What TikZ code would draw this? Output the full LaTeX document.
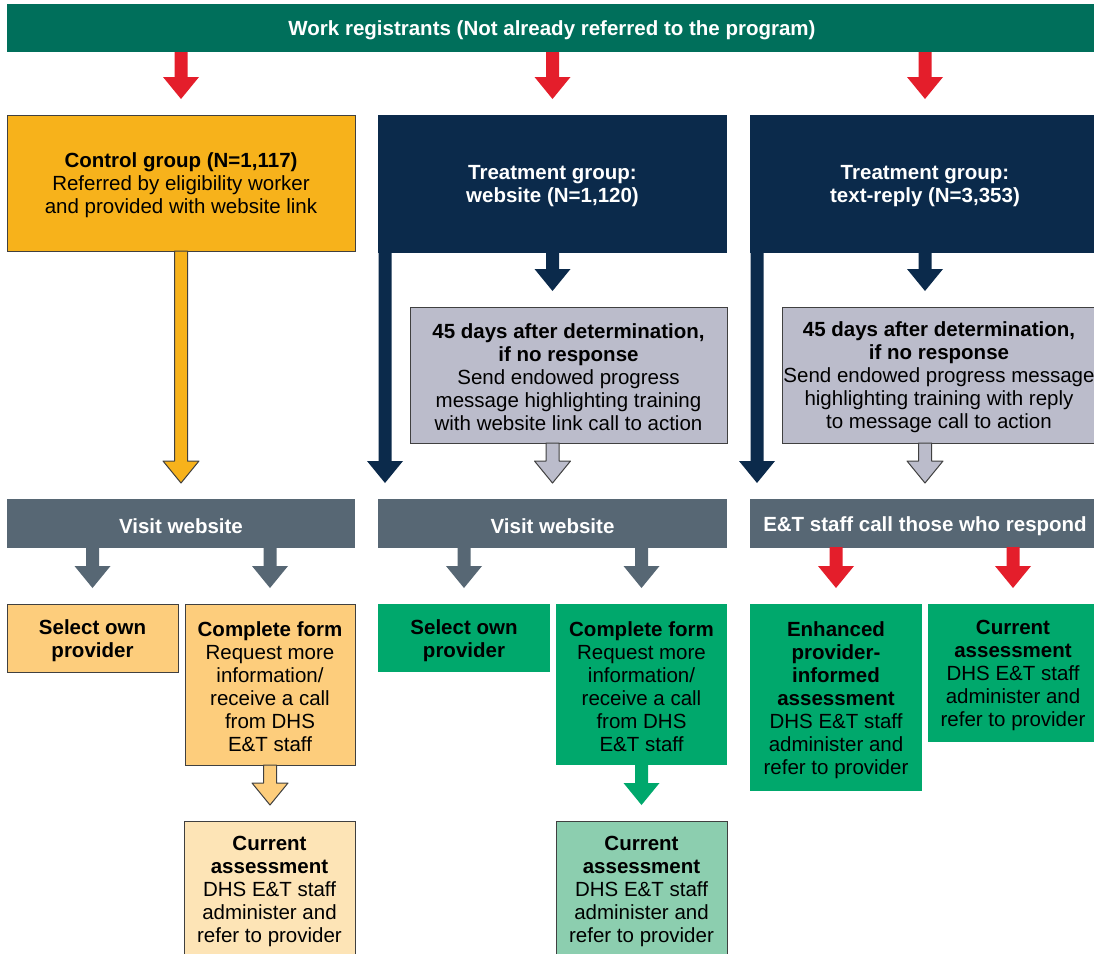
\documentclass[tikz,border=0pt]{standalone}
\usepackage{fontspec}
\setmainfont{Liberation Sans}
\usetikzlibrary{calc}
\definecolor{cTeal}{RGB}{0,111,91}
\definecolor{cOrange}{RGB}{247,178,27}
\definecolor{cNavy}{RGB}{11,42,75}
\definecolor{cLGray}{RGB}{187,188,203}
\definecolor{cSlate}{RGB}{87,103,116}
\definecolor{cLOrange}{RGB}{253,205,124}
\definecolor{cLLOrange}{RGB}{253,228,182}
\definecolor{cGreen}{RGB}{0,168,108}
\definecolor{cLGreen}{RGB}{140,206,175}
\definecolor{cRed}{RGB}{228,30,43}
\definecolor{cBord}{RGB}{64,64,64}
\newcommand{\fs}{\fontsize{20.5}{23}\selectfont}
% block arrow: style, start point, target node anchor (tip stops 16pt above target)
\newcommand{\barr}[3]{\path[#1] let \p1=#2, \p2=#3 in
  (\x1-6.5pt,\y1) -- (\x1-6.5pt,\y2+38pt) -- (\x1-18pt,\y2+38pt) -- (\x1,\y2+16pt)
  -- (\x1+18pt,\y2+38pt) -- (\x1+6.5pt,\y2+38pt) -- (\x1+6.5pt,\y1) -- cycle;}
\begin{document}
\begin{tikzpicture}[x=1pt,y=-1pt,
  box/.style={inner sep=0pt, outer sep=0pt, anchor=north west},
  lbl/.style={inner sep=0pt, align=center, font=\fs, yshift=-2.5pt},
  wlbl/.style={lbl, text=white, font=\fs\bfseries},
  blbl/.style={lbl, font=\fs\bfseries},
  bordered/.style={draw=cBord, line width=1pt},
  redarr/.style={fill=cRed, line join=round},
  navyarr/.style={fill=cNavy, line join=round},
  slatearr/.style={fill=cSlate, line join=round},
  greenarr/.style={fill=cGreen, line join=round},
  orarr/.style={fill=cOrange, draw=cBord, line width=1pt, line join=round},
  lorarr/.style={fill=cLOrange, draw=cBord, line width=1pt, line join=round},
  grayarr/.style={fill=cLGray, draw=cBord, line width=1pt, line join=round}]
\path[use as bounding box, clip] (0,0) rectangle (1094,953);
\fill[white] (0,0) rectangle (1094,953);

% top banner
\node[box, fill=cTeal, minimum width=1090, minimum height=48,
  label={[wlbl]center:{Work registrants (Not already referred to the program)}}] (banner) at (7,4) {};

% group boxes
\node[box, bordered, fill=cOrange, minimum width=348, minimum height=136,
  label={[lbl]center:{\textbf{Control group (N=1,117)}\\Referred by eligibility worker\\and provided with website link}}] (ctrl) at (7,115) {};
\node[box, fill=cNavy, minimum width=349, minimum height=138,
  label={[wlbl]center:{Treatment group:\\website (N=1,120)}}] (tw) at (378,115) {};
\node[box, fill=cNavy, minimum width=350, minimum height=138,
  label={[wlbl]center:{Treatment group:\\text-reply (N=3,353)}}] (tt) at (750,115) {};

% 45-day boxes
\node[box, bordered, fill=cLGray, minimum width=317, minimum height=136,
  label={[lbl]center:{\textbf{45 days after determination,}\\\textbf{if no response}\\Send endowed progress\\message highlighting training\\with website link call to action}}] (g1) at (410,307) {};
\node[box, bordered, fill=cLGray, minimum width=314, minimum height=136,
  label={[lbl]center:{\textbf{45 days after determination,}\\\textbf{if no response}\\Send endowed progress message\\highlighting training with reply\\to message call to action}}] (g2) at (782,307) {};

% visit bars
\node[box, fill=cSlate, minimum width=348, minimum height=49, label={[wlbl]center:{Visit website}}] (v1) at (7,499) {};
\node[box, fill=cSlate, minimum width=349, minimum height=49, label={[wlbl]center:{Visit website}}] (v2) at (378,499) {};
\node[box, fill=cSlate, minimum width=350, minimum height=49, label={[wlbl]center:{E\&T staff call those who respond}}] (v3) at (750,499) {};

% bottom boxes, control
\node[box, bordered, fill=cLOrange, minimum width=171, minimum height=68,
  label={[blbl]center:{Select own\\provider}}] (s1) at (7,604) {};
\node[box, bordered, fill=cLOrange, minimum width=170, minimum height=161,
  label={[lbl]center:{\textbf{Complete form}\\Request more\\information/\\receive a call\\from DHS\\E\&T staff}}] (c1) at (185,604) {};
\node[box, bordered, fill=cLLOrange, minimum width=171, minimum height=136,
  label={[lbl]center:{\textbf{Current}\\\textbf{assessment}\\DHS E\&T staff\\administer and\\refer to provider}}] (a1) at (184,821) {};

% bottom boxes, website
\node[box, fill=cGreen, minimum width=172, minimum height=68,
  label={[blbl]center:{Select own\\provider}}] (s2) at (378,604) {};
\node[box, fill=cGreen, minimum width=171, minimum height=161,
  label={[lbl]center:{\textbf{Complete form}\\Request more\\information/\\receive a call\\from DHS\\E\&T staff}}] (c2) at (556,604) {};
\node[box, bordered, fill=cLGreen, minimum width=171, minimum height=136,
  label={[lbl]center:{\textbf{Current}\\\textbf{assessment}\\DHS E\&T staff\\administer and\\refer to provider}}] (a2) at (556,821) {};

% bottom boxes, text-reply
\node[box, fill=cGreen, minimum width=172, minimum height=187,
  label={[lbl]center:{\textbf{Enhanced}\\\textbf{provider-}\\\textbf{informed}\\\textbf{assessment}\\DHS E\&T staff\\administer and\\refer to provider}}] (e3) at (750,604) {};
\node[box, fill=cGreen, minimum width=170, minimum height=138,
  label={[lbl]center:{\textbf{Current}\\\textbf{assessment}\\DHS E\&T staff\\administer and\\refer to provider}}] (a3) at (928,604) {};

% arrows from banner
\barr{redarr}{(banner.south -| ctrl.north)}{(ctrl.north)}
\barr{redarr}{(banner.south -| tw.north)}{(tw.north)}
\barr{redarr}{(banner.south -| tt.north)}{(tt.north)}

% control to visit
\barr{orarr}{(ctrl.south)}{(v1.north)}

% treatment website
\barr{navyarr}{($(tw.south west)+(7pt,1pt)$)}{(v2.north)}
\barr{navyarr}{($(tw.south)+(0pt,1pt)$)}{(g1.north)}
\barr{grayarr}{(g1.south -| tw.south)}{(v2.north)}

% treatment text-reply
\barr{navyarr}{($(tt.south west)+(7pt,1pt)$)}{(v3.north)}
\barr{navyarr}{($(tt.south)+(0pt,1pt)$)}{(g2.north)}
\barr{grayarr}{(g2.south -| tt.south)}{(v3.north)}

% from visit bars
\barr{slatearr}{($(v1.south -| s1.north)+(0pt,1pt)$)}{(s1.north)}
\barr{slatearr}{($(v1.south -| c1.north)+(0pt,1pt)$)}{(c1.north)}
\barr{slatearr}{($(v2.south -| s2.north)+(0pt,1pt)$)}{(s2.north)}
\barr{slatearr}{($(v2.south -| c2.north)+(0pt,1pt)$)}{(c2.north)}
\barr{redarr}{($(v3.south -| e3.north)+(0pt,1pt)$)}{(e3.north)}
\barr{redarr}{($(v3.south -| a3.north)+(0pt,1pt)$)}{(a3.north)}

% complete form to current assessment
\barr{lorarr}{(c1.south)}{(a1.north)}
\barr{greenarr}{($(c2.south)+(0pt,1pt)$)}{(a2.north)}
\end{tikzpicture}
\end{document}
